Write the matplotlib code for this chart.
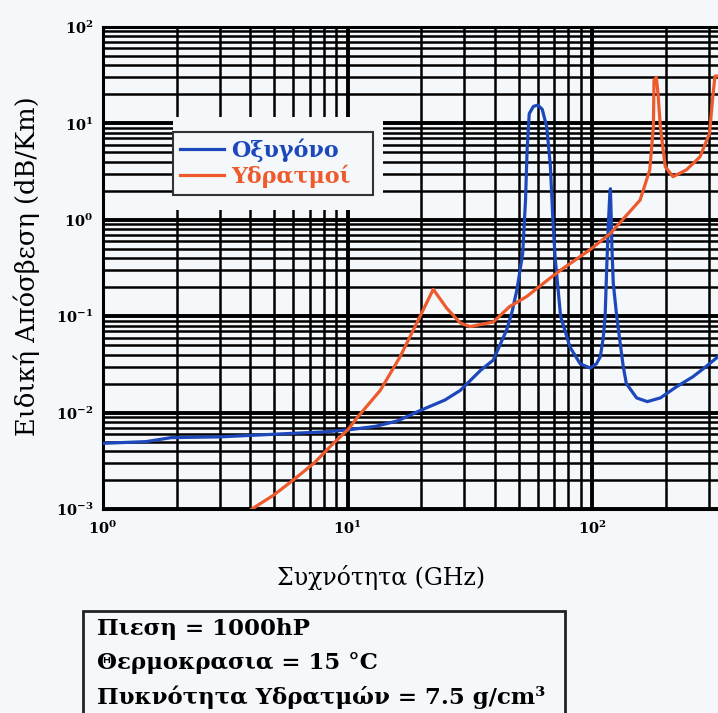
import matplotlib
matplotlib.use("Agg")
import matplotlib.pyplot as plt
import matplotlib.patches as mpatches
from matplotlib.ticker import FixedLocator, FixedFormatter, LogLocator, NullFormatter

# ---- data: specific attenuation (dB/Km) vs frequency (GHz) ----
oxy_freq = [1.0, 1.5, 1.9, 3.0, 4.0, 6.0, 8.0, 10.0, 13.0, 16.0, 19.8, 25.0, 28.9, 35.0,
            39.4, 44.7, 47.0, 49.3, 52.0, 53.4, 54.2, 55.3, 57.5, 60.0, 62.5, 65.2, 67.5,
            69.0, 70.6, 74.3, 81.1, 89.4, 98.2, 104.0, 108.0, 111.0, 113.0, 114.7, 116.5,
            118.0, 118.75, 119.5, 120.5, 122.0, 126.0, 134.0, 138.0, 152.0, 168.0, 190.0,
            221.0, 258.0, 292.0, 327.0]
oxy_att = [0.0048, 0.0050, 0.0055, 0.0056, 0.0058, 0.0061, 0.0063, 0.0066, 0.0072, 0.0082,
           0.0105, 0.0135, 0.017, 0.0275, 0.035, 0.072, 0.11, 0.19, 0.45, 1.6, 5.3, 12.6,
           15.0, 15.5, 14.0, 9.2, 3.6, 1.07, 0.4, 0.1, 0.048, 0.032, 0.029, 0.032, 0.038,
           0.06, 0.1, 0.32, 0.9, 1.8, 2.1, 1.2, 0.5, 0.22, 0.1, 0.03, 0.02, 0.0142, 0.013,
           0.0142, 0.0185, 0.0235, 0.030, 0.038]

wv_freq = [4.06, 5.0, 6.0, 7.3, 8.75, 10.0, 11.0, 13.6, 16.4, 19.8, 22.4, 25.5, 28.9, 31.7,
           39.4, 46.0, 54.0, 67.5, 74.3, 98.0, 118.6, 157.0, 172.0, 178.0, 179.0, 183.0,
           186.0, 190.0, 199.0, 214.0, 243.0, 276.0, 302.0, 312.0, 318.0, 325.0]
wv_att = [0.001, 0.0014, 0.002, 0.003, 0.0048, 0.0066, 0.009, 0.017, 0.038, 0.1, 0.19, 0.12,
          0.085, 0.078, 0.087, 0.126, 0.16, 0.25, 0.30, 0.49, 0.72, 1.6, 3.3, 9.3, 28.0,
          30.0, 20.0, 9.3, 3.55, 2.8, 3.3, 4.5, 7.9, 20.0, 31.0, 31.0]

x_ticks = [1, 10, 100]
x_ticklabels = [r'$\mathbf{10^{0}}$', r'$\mathbf{10^{1}}$', r'$\mathbf{10^{2}}$']
y_ticks = [1e-3, 1e-2, 1e-1, 1e0, 1e1, 1e2]
y_ticklabels = [r'$\mathbf{10^{-3}}$', r'$\mathbf{10^{-2}}$', r'$\mathbf{10^{-1}}$',
                r'$\mathbf{10^{0}}$', r'$\mathbf{10^{1}}$', r'$\mathbf{10^{2}}$']

legend_labels = ['Οξυγόνο', 'Υδρατμοί']
info_lines = ['Πιεση = 1000hP', 'Θερμοκρασια = 15 °C', 'Πυκνότητα Υδρατμών = 7.5 g/cm³']

bg = '#f5f8fa'
c_oxy = '#1c48bc'
c_wv = '#ee5a2c'

matplotlib.rcParams['mathtext.fontset'] = 'dejavuserif'

W, H = 718, 713
fig = plt.figure(figsize=(W / 100, H / 100), dpi=100, facecolor=bg)
ax = fig.add_axes([103 / W, 1 - 509 / H, (W - 103) / W, 482 / H])
ax.set_facecolor(bg)
ax.set_xscale('log')
ax.set_yscale('log')
ax.set_xlim(1, 327)
ax.set_ylim(1e-3, 1e2)

# dense log grid in black
ax.xaxis.set_minor_locator(LogLocator(base=10, subs=range(2, 10), numticks=20))
ax.yaxis.set_minor_locator(LogLocator(base=10, subs=range(2, 10), numticks=20))
ax.xaxis.set_minor_formatter(NullFormatter())
ax.yaxis.set_minor_formatter(NullFormatter())
ax.set_axisbelow(True)
ax.grid(which='major', color='black', lw=2.8)
ax.grid(which='minor', color='black', lw=1.8)

ax.xaxis.set_major_locator(FixedLocator(x_ticks))
ax.xaxis.set_major_formatter(FixedFormatter(x_ticklabels))
ax.yaxis.set_major_locator(FixedLocator(y_ticks))
ax.yaxis.set_major_formatter(FixedFormatter(y_ticklabels))
ax.tick_params(which='both', length=0, labelsize=10.5)
ax.tick_params(axis='x', pad=8)
ax.tick_params(axis='y', pad=7)

for s in ['left', 'top', 'bottom']:
    ax.spines[s].set_linewidth(2.2)
ax.spines['right'].set_visible(False)

# blank area behind the legend
ax.add_patch(mpatches.Rectangle((173 / W, 1 - 210 / H), 210 / W, 93 / H,
                                transform=fig.transFigure, facecolor=bg,
                                edgecolor='none', zorder=1))

l1, = ax.plot(oxy_freq, oxy_att, color=c_oxy, lw=2.3, zorder=3)
l2, = ax.plot(wv_freq, wv_att, color=c_wv, lw=2.3, zorder=3)

leg = ax.legend([l1, l2], legend_labels, loc='upper left', mode='expand',
                bbox_to_anchor=(173 / W, 1 - 192 / H, 200 / W, 60 / H),
                bbox_transform=fig.transFigure,
                borderaxespad=0, fancybox=False, framealpha=1, facecolor=bg,
                edgecolor='#333333', handlelength=2.0, handletextpad=0.3,
                labelspacing=0.12, borderpad=0.3,
                prop={'family': 'DejaVu Serif', 'weight': 'bold', 'size': 16})
leg.get_frame().set_linewidth(1.5)
for txt, col in zip(leg.get_texts(), [c_oxy, c_wv]):
    txt.set_color(col)

fig.text(381 / W, 1 - 578 / H, 'Συχνότητα (GHz)', ha='center', va='center',
         family='DejaVu Serif', fontsize=17)
fig.text(27 / W, 1 - 266 / H, 'Ειδική Απόσβεση (dB/Km)', ha='center', va='center',
         rotation=90, family='DejaVu Serif', fontsize=18.5)

# conditions box
fig.add_artist(mpatches.Rectangle((83 / W, -0.02), 482 / W, 102 / H + 0.02,
                                  transform=fig.transFigure, facecolor=bg,
                                  edgecolor='#222222', lw=2))
for i, line in enumerate(info_lines):
    fig.text(97 / W, 1 - (629 + 34 * i) / H, line, ha='left', va='center',
             family='DejaVu Serif', weight='bold', fontsize=16.5)

fig.savefig('out.png', dpi=100, facecolor=bg)
